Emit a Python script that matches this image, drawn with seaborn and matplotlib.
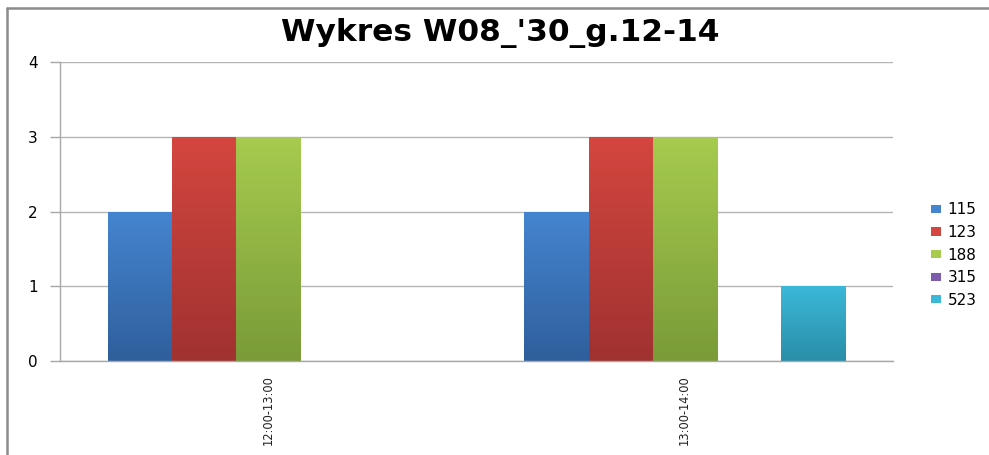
import numpy as np
import pandas as pd
import matplotlib
matplotlib.use("Agg")
import matplotlib.pyplot as plt
import seaborn as sns
from matplotlib.patches import Patch
from matplotlib.lines import Line2D
from matplotlib.colors import to_rgb

# data
categories = ["12:00-13:00", "13:00-14:00"]
series = ["115", "123", "188", "315", "523"]
values_115 = [2, 2]
values_123 = [3, 3]
values_188 = [3, 3]
values_315 = [0, 0]
values_523 = [0, 1]

top_colors = ["#4585d0", "#d4463f", "#a6cb4e", "#7d5cae", "#3bb8d8"]
bottom_colors = ["#2f5f9c", "#a03230", "#7a9b38", "#5a3f85", "#2a8ea8"]

rows = []
for name, vals in zip(series, [values_115, values_123, values_188, values_315, values_523]):
    for cat, v in zip(categories, vals):
        rows.append({"godz": cat, "seria": name, "val": v})
df = pd.DataFrame(rows)

sns.set_style("white")
plt.rcParams['font.family'] = ['DejaVu Sans']
plt.rcParams['text.color'] = 'black'
plt.rcParams['xtick.color'] = 'black'
plt.rcParams['ytick.color'] = 'black'

fig = plt.figure(figsize=(9.89, 4.55), dpi=100)
ax = fig.add_axes([60 / 989, 94 / 455, 833 / 989, 299 / 455])

sns.barplot(data=df, x="godz", y="val", hue="seria", hue_order=series,
            order=categories, palette=top_colors, width=0.77,
            linewidth=0, ax=ax, legend=False)

# gradient fill on every bar (Excel style)
n_cat = len(categories)
for i, patch in enumerate(ax.patches):
    s = i // n_cat
    x0, y0 = patch.get_x(), patch.get_y()
    w, h = patch.get_width(), patch.get_height()
    if h <= 0:
        continue
    c1 = np.array(to_rgb(top_colors[s]))
    c2 = np.array(to_rgb(bottom_colors[s]))
    t = np.linspace(0, 1, 64)[:, None]
    grad = (c1 * (1 - t) + c2 * t)[:, None, :]
    im = ax.imshow(grad, extent=[x0, x0 + w, y0, y0 + h], origin="upper",
                   aspect="auto", zorder=2)
    im.set_clip_path(patch)
    patch.set_facecolor("none")

ax.set_xlim(-0.5, 1.5)
ax.set_ylim(0, 4)
ax.set_yticks([0, 1, 2, 3, 4])
ax.yaxis.grid(True, color="#b4b4b4", linewidth=1)
ax.set_axisbelow(True)
ax.set_xlabel("")
ax.set_ylabel("")

for sp in ["top", "right"]:
    ax.spines[sp].set_visible(False)
for sp in ["left", "bottom"]:
    ax.spines[sp].set_color("#a8a8a8")
    ax.spines[sp].set_linewidth(1)

ax.tick_params(axis="y", left=True, length=7, width=1, color="#a8a8a8",
               labelcolor="black", labelsize=11, pad=9)
ax.tick_params(axis="x", bottom=False, length=0, pad=10, labelcolor="#222222")
for lbl in ax.get_xticklabels():
    lbl.set_rotation(90)
    lbl.set_fontsize(9.2)
    lbl.set_family(['DejaVu Sans'])
    lbl.set_stretch('condensed')
    lbl.set_va("top")

fig.text(0.506, 0.927, "Wykres W08_'30_g.12-14", ha="center", va="center",
         fontsize=22.5, fontweight="bold", color="black")

handles = [Patch(facecolor=c, edgecolor="none") for c in top_colors]
fig.legend(handles, series, loc="center left", bbox_to_anchor=(923 / 989, 1 - 255 / 455),
           frameon=False, fontsize=11, handlelength=0.65, handleheight=0.45,
           handletextpad=0.45, labelspacing=0.5, borderpad=0)

# outer chart frame (left and top edges visible)
fig.add_artist(Line2D([7 / 989, 7 / 989], [0, 1 - 8 / 455], transform=fig.transFigure,
                      color="#8c8c8c", linewidth=1.8))
fig.add_artist(Line2D([7 / 989, 1], [1 - 8 / 455, 1 - 8 / 455], transform=fig.transFigure,
                      color="#8c8c8c", linewidth=1.8))

fig.savefig("out.png", dpi=100)
